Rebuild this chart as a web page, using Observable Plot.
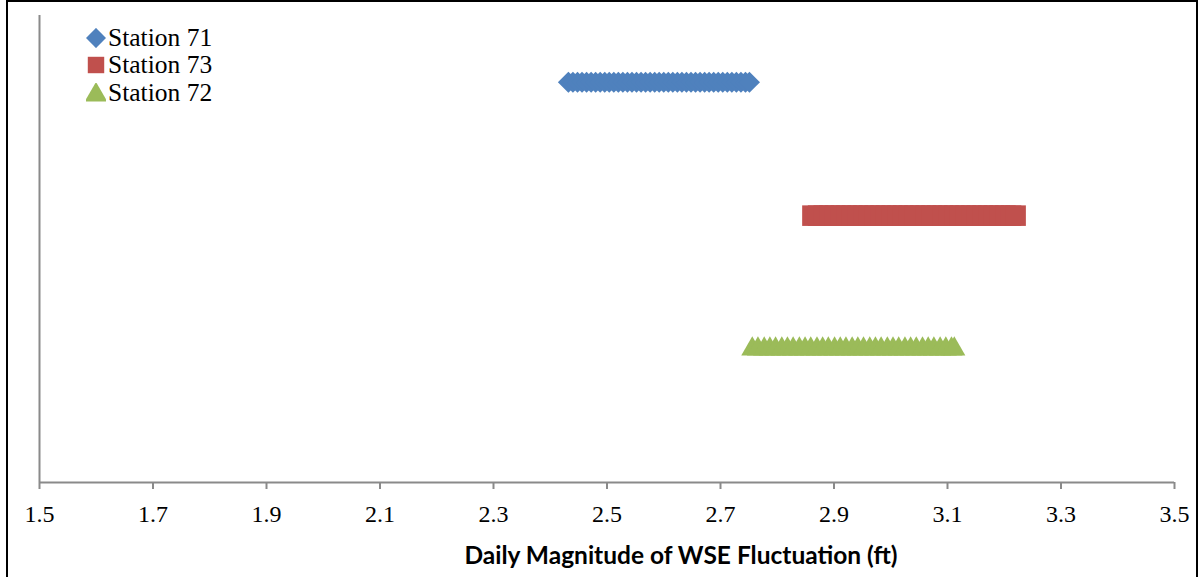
<!DOCTYPE html>
<html>
<head>
<meta charset="utf-8">
<script src="https://cdn.jsdelivr.net/npm/d3@7"></script>
<script src="https://cdn.jsdelivr.net/npm/@observablehq/plot@0.6"></script>
<style>
  html, body { margin: 0; padding: 0; background: #fff; }
  #wrap { position: relative; width: 1202px; height: 577px; overflow: hidden; }
  #frame { position: absolute; left: 6px; top: 0px; width: 1192px; height: 600px; border: 2px solid #000; box-sizing: border-box; pointer-events: none; }
  #chart { position: absolute; left: 0; top: 0; }
  #legend { position: absolute; left: 86px; top: 24px; font-family: 'Liberation Serif', 'Times New Roman', serif; font-size: 25.5px; color: #000; }
  #legend .row { display: flex; align-items: center; height: 27.5px; }
  #legend span { font-family: 'Liberation Serif', serif; }
  #legend svg { margin-right: 2px; }
</style>
</head>
<body>
<div id="wrap">
  <div id="chart"></div>
  <div id="legend"></div>
  <div id="frame"></div>
</div>
<script>
const stations = ["Station 71", "Station 73", "Station 72"];
const stationColors = ["#4F81BD", "#C0504D", "#9BBB59"];
const stationSymbols = ["diamond2", "square", "triangle"];
const stationLevels = [3, 2, 1];

const station71 = [2.432, 2.440, 2.448, 2.456, 2.464, 2.472, 2.480, 2.488, 2.496, 2.504,
  2.512, 2.520, 2.528, 2.536, 2.544, 2.552, 2.560, 2.568, 2.576, 2.584,
  2.592, 2.600, 2.608, 2.616, 2.624, 2.632, 2.640, 2.648, 2.656, 2.664,
  2.672, 2.680, 2.688, 2.696, 2.704, 2.712, 2.720, 2.728, 2.736, 2.744, 2.751];
const station73 = [2.862, 2.872, 2.882, 2.892, 2.902, 2.912, 2.922, 2.932, 2.942, 2.952,
  2.962, 2.972, 2.982, 2.992, 3.002, 3.012, 3.022, 3.032, 3.042, 3.052,
  3.062, 3.072, 3.082, 3.092, 3.102, 3.112, 3.122, 3.132, 3.142, 3.152,
  3.162, 3.172, 3.182, 3.192, 3.202, 3.212, 3.220];
const station72 = [2.756, 2.766, 2.777, 2.787, 2.797, 2.808, 2.818, 2.828, 2.839, 2.849,
  2.859, 2.870, 2.880, 2.890, 2.901, 2.911, 2.921, 2.932, 2.942, 2.952,
  2.963, 2.973, 2.983, 2.994, 3.004, 3.014, 3.025, 3.035, 3.045, 3.056,
  3.066, 3.076, 3.087, 3.097, 3.107, 3.112];
const seriesValues = [station71, station73, station72];
const markerR = [9.5, 11.6, 8.2];

const xTicks = [1.5, 1.7, 1.9, 2.1, 2.3, 2.5, 2.7, 2.9, 3.1, 3.3, 3.5];
const xLabel = "Daily Magnitude of WSE Fluctuation (ft)";

const axisGray = "#8a8a8a";

const dotMarks = stations.map((s, i) =>
  Plot.dot(seriesValues[i].map(v => ({x: v, y: stationLevels[i]})), {
    x: "x", y: "y",
    symbol: () => stationSymbols[i],
    fill: stationColors[i],
    stroke: "none",
    r: markerR[i]
  })
);

const chart = Plot.plot({
  width: 1202,
  height: 577,
  marginLeft: 39,
  marginRight: 28,
  marginTop: 15,
  marginBottom: 95,
  x: {domain: [1.5, 3.5]},
  y: {domain: [0, 3.5]},
  symbol: {type: "identity"},
  style: {background: "transparent", overflow: "visible"},
  marks: [
    Plot.axisX({
      ticks: xTicks,
      tickFormat: d => d.toFixed(1),
      tickSize: 7,
      tickPadding: 15,
      stroke: axisGray,
      strokeWidth: 2,
      fill: "#000",
      fontSize: 24,
      fontFamily: "Liberation Serif, Times New Roman, serif",
      label: null
    }),
    Plot.axisY({ticks: [], label: null}),
    Plot.ruleY([0], {stroke: axisGray, strokeWidth: 2}),
    Plot.ruleX([1.5], {stroke: axisGray, strokeWidth: 2}),
    ...dotMarks,
    Plot.text([xLabel], {
      frameAnchor: "bottom",
      dy: 81,
      dx: 74,
      text: d => d,
      fontSize: 24.5,
      fontWeight: "bold",
      fontFamily: "Lato, sans-serif",
      fill: "#000"
    })
  ]
});
document.getElementById("chart").appendChild(chart);

// Legend
const legend = d3.select("#legend");
stations.forEach((s, i) => {
  const row = legend.append("div").attr("class", "row");
  const svg = row.append("svg").attr("width", 20).attr("height", 20);
  const symType = {diamond2: d3.symbolDiamond2, square: d3.symbolSquare, triangle: d3.symbolTriangle}[stationSymbols[i]];
  const sizes = [260, 270, 220];
  svg.append("path")
    .attr("transform", i === 2 ? "translate(10,12)" : "translate(10,10)")
    .attr("d", d3.symbol(symType, sizes[i])())
    .attr("fill", stationColors[i]);
  row.append("span").text(s);
});
</script>
</body>
</html>
